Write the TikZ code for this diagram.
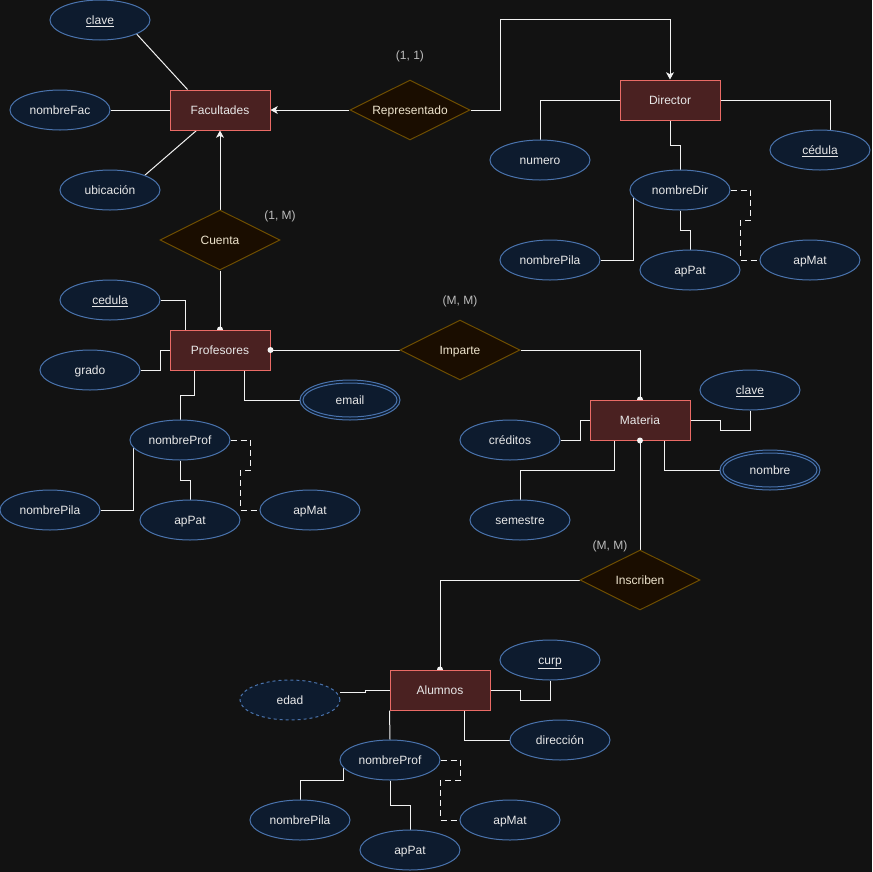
\documentclass[tikz,border=0pt]{standalone}
\usepackage{fontspec}
\setmainfont{Liberation Sans}
\usetikzlibrary{shapes.geometric,arrows.meta,calc}
\pgfdeclarelayer{background}
\pgfdeclarelayer{bottom}
\pgfsetlayers{bottom,background,main}
\definecolor{bg}{HTML}{121212}
\definecolor{entfill}{HTML}{4A2121}
\definecolor{entstroke}{HTML}{EA6B66}
\definecolor{attfill}{HTML}{0D1B2E}
\definecolor{attstroke}{HTML}{4A73AD}
\definecolor{relfill}{HTML}{1A0D00}
\definecolor{relstroke}{HTML}{6D4D00}
\definecolor{txt}{HTML}{E8E8E8}
\definecolor{reltxt}{HTML}{EDE3CC}
\definecolor{cardtxt}{HTML}{BDBDBD}
\definecolor{linec}{HTML}{F2F2F2}
\tikzset{
  x=0.75pt, y=-0.75pt,
  lbl/.style={font=\fontsize{9}{11}\selectfont, text height=7.4pt, text depth=1.4pt},
  entity/.style={lbl, rectangle, draw=entstroke, fill=entfill, line width=0.75pt,
    minimum width=75pt, minimum height=30pt, inner sep=0pt, text=txt},
  attr/.style={lbl, ellipse, draw=attstroke, fill=attfill, line width=0.75pt,
    minimum width=75pt, minimum height=30pt, inner sep=0pt, text=txt},
  derived/.style={attr, dash pattern=on 2.25pt off 2.25pt},
  rel/.style={lbl, diamond, draw=relstroke, fill=relfill, aspect=2, line width=0.75pt,
    minimum width=90pt, minimum height=45pt, inner sep=0pt, text=reltxt},
  link/.style={draw=linec, line width=0.75pt},
  dlink/.style={link, dash pattern=on 4.5pt off 3pt},
  arr/.style={link, -{Stealth[length=5.5pt,width=6pt,inset=1.5pt]}},
  card/.style={lbl, text=cardtxt},
  dot/.style={fill=linec},
  innerell/.style={draw=attstroke, line width=0.75pt},
}
\begin{document}
\begin{tikzpicture}
\begin{pgfonlayer}{bottom}
\fill[bg] (0,0) rectangle (872,872);
\end{pgfonlayer}
\useasboundingbox (0,0) rectangle (872,872);

% ---------- Facultades ----------
\node[entity] (fac) at (220,110) {Facultades};
\node[attr] (fclave) at (100,20) {\underline{clave}};
\node[attr] (fnom) at (60,110) {nombreFac};
\node[attr] (fubi) at (110,190) {ubicación};
\node[rel] (rep) at (410,110) {Representado};
\node[card] (c11) at (410,55) {(1, 1)};
\node[rel] (cuenta) at (220,240) {Cuenta};
\node[card] (c1m) at (280,215) {(1, M)};

% ---------- Director ----------
\node[entity] (dir) at (670,100) {Director};
\node[attr] (dnum) at (540,160) {numero};
\node[attr] (dced) at (820,150) {\underline{cédula}};
\node[attr] (dnom) at (680,190) {nombreDir};
\node[attr] (dpila) at (550,260) {nombrePila};
\node[attr] (dpat) at (690,270) {apPat};
\node[attr] (dmat) at (810,260) {apMat};

% ---------- Profesores ----------
\node[entity] (prof) at (220,350) {Profesores};
\node[attr] (pced) at (110,300) {\underline{cedula}};
\node[attr] (pgrado) at (90,370) {grado};
\node[attr] (pemail) at (350,400) {email};
\draw[innerell] (pemail.center) ellipse [x radius=35.25pt, y radius=12.75pt];
\node[attr] (pnom) at (180,440) {nombreProf};
\node[attr] (ppila) at (50,510) {nombrePila};
\node[attr] (ppat) at (190,520) {apPat};
\node[attr] (pmat) at (310,510) {apMat};
\node[rel] (imp) at (460,350) {Imparte};
\node[card] (cmm1) at (460,300) {(M, M)};

% ---------- Materia ----------
\node[entity] (mat) at (640,420) {Materia};
\node[attr] (mclave) at (750,390) {\underline{clave}};
\node[attr] (mcred) at (510,440) {créditos};
\node[attr] (mnom) at (770,470) {nombre};
\draw[innerell] (mnom.center) ellipse [x radius=35.25pt, y radius=12.75pt];
\node[attr] (msem) at (520,520) {semestre};
\node[rel] (insc) at (640,580) {Inscriben};
\node[card] (cmm2) at (610,545) {(M, M)};

% ---------- Alumnos ----------
\node[entity] (alum) at (440,690) {Alumnos};
\node[attr] (acurp) at (550,660) {\underline{curp}};
\node[derived] (aedad) at (290,700) {edad};
\node[attr] (adir) at (560,740) {dirección};
\node[attr] (anom) at (390,760) {nombreProf};
\node[attr] (apila) at (300,820) {nombrePila};
\node[attr] (apat) at (410,850) {apPat};
\node[attr] (amat) at (510,820) {apMat};

\begin{pgfonlayer}{background}
% Facultades
\draw[link] (fclave.-21) -- ($(fac.north west)+(18,0)$);
\draw[link] (fnom) -- (fac);
\draw[link] (fubi.23) -- ($(fac.south west)+(27,0)$);
\draw[arr] (rep) -- (fac);
\draw[arr] (rep.east) -- ++(30,0) |- ($(dir.north)+(0,-60)$) -- (dir.north);
\draw[arr] (cuenta) -- (fac);
\draw[link] (cuenta) -- (prof);
\fill[dot] (prof.north) circle (2.25pt);
% Director
\draw[link] (dir.west) -| (dnum.north);
\draw[link] (dir.east) -| ($(dced.north)+(10,0)$);
\draw[link] (dir.south) -- ++(0,25) -| (dnom.north);
\draw[link] (dpila.east) -| (dnom.-170);
\draw[link] (dnom.south) -- ++(0,20) -| (dpat.north);
\draw[dlink] (dnom.east) -- ++(20,0) -- ++(0,30) -- ++(-10,0) |- (dmat.west);
% Profesores
\draw[link] (pced.east) -| ($(prof.north west)+(16,0)$);
\draw[link] (pgrado.east) -- ++(20,0) |- (prof.west);
\draw[link] ($(prof.south west)+(75,0)$) |- (pemail.west);
\draw[link] ($(prof.south west)+(25,0)$) -- ++(0,25) -| (pnom.north);
\draw[link] (ppila.east) -| (pnom.-170);
\draw[link] (pnom.south) -- ++(0,20) -| (ppat.north);
\draw[dlink] (pnom.east) -- ++(20,0) -- ++(0,30) -- ++(-10,0) |- (pmat.west);
\draw[link] (prof.east) -- (imp.west);
\draw[link] (imp.east) -| (mat.north);
\fill[dot] (mat.north) circle (2.25pt);
% Materia
\draw[link] (mat.east) -- ++(30,0) -- ++(0,10) -| (mclave.south);
\draw[link] (mcred.east) -- ++(20,0) |- (mat.west);
\draw[link] ($(mat.south west)+(75,0)$) |- (mnom.west);
\draw[link] ($(mat.south west)+(25,0)$) -- ++(0,30) -| (msem.north);
\draw[link] (mat.south) -- (insc.north);
\draw[link] (insc.west) -| (alum.north);
\fill[dot] (alum.north) circle (2.25pt);
% Alumnos
\draw[link] (alum.east) -- ++(30,0) -- ++(0,10) -| (acurp.south);
\draw[link] (alum.west) -- ++(-24,0) -- ++(0,2) -- ++(-26,0);
\draw[link] ($(alum.south west)+(75,0)$) |- (adir.west);
\draw[link] (alum.south west) -- (anom.north);
\draw[link] (anom.-170) -- (anom.-170 |- anom.south) -| (apila.north);
\draw[link] (anom.south) -- ++(0,25) -| (apat.north);
\draw[dlink] (anom.east) -- ++(20,0) -- ++(0,20) -- ++(-20,0) |- (amat.west);
\end{pgfonlayer}
\fill[dot] (prof.east) circle (2.25pt);
\fill[dot] (mat.south) circle (2.25pt);
\end{tikzpicture}
\end{document}
